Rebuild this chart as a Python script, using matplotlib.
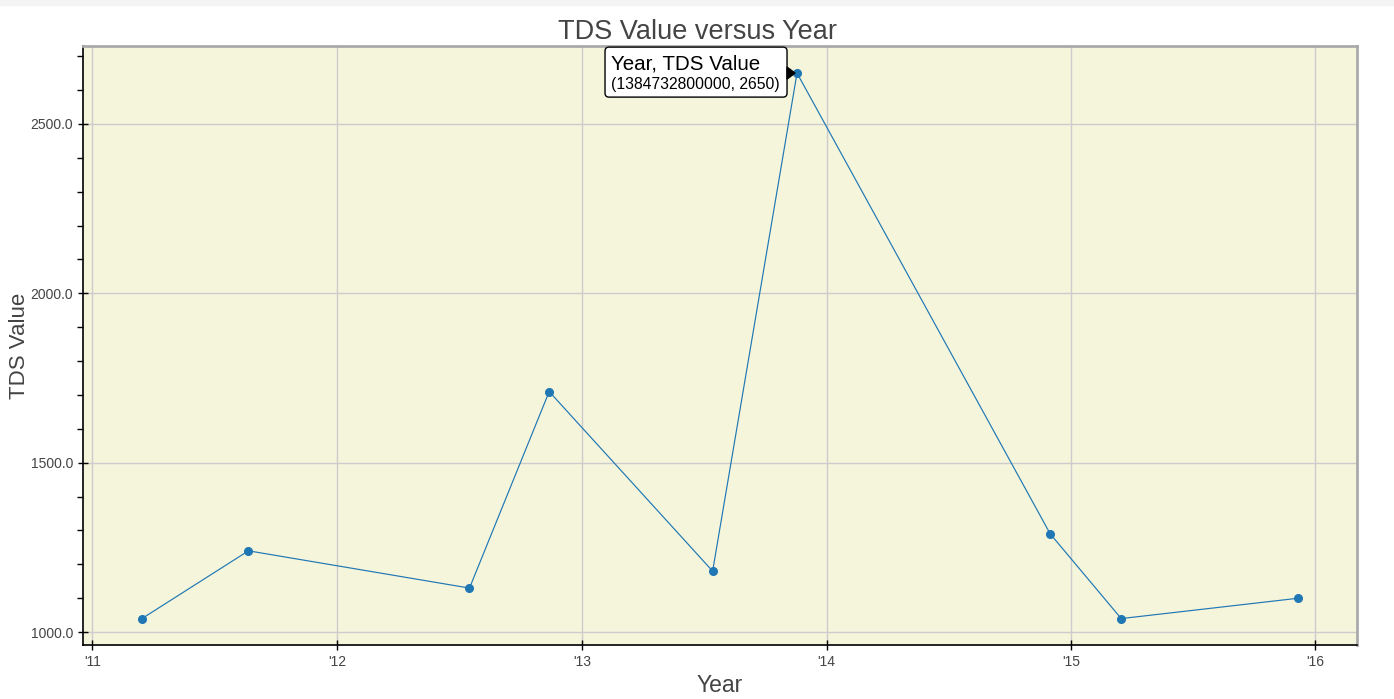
import datetime as dt
import matplotlib
matplotlib.use("Agg")
import matplotlib.pyplot as plt
import matplotlib.dates as mdates
import matplotlib.transforms as mtransforms
from matplotlib.ticker import MultipleLocator, FuncFormatter
from matplotlib.patches import Rectangle, FancyBboxPatch, Polygon

plt.rcParams['font.family'] = ['Liberation Sans', 'DejaVu Sans']

# data
dates = [dt.datetime(2011, 3, 16), dt.datetime(2011, 8, 22), dt.datetime(2012, 7, 17),
         dt.datetime(2012, 11, 13), dt.datetime(2013, 7, 15), dt.datetime(2013, 11, 18),
         dt.datetime(2014, 12, 1), dt.datetime(2015, 3, 17), dt.datetime(2015, 12, 6)]
tds = [1040, 1240, 1130, 1710, 1180, 2650, 1290, 1040, 1100]
hover_idx = 5
hover_ms = 1384732800000

fig = plt.figure(figsize=(13.94, 6.99), dpi=100)
fig.patches.append(Rectangle((0, 0.993), 1, 0.007, transform=fig.transFigure,
                             color='#f4f4f4', zorder=0))
ax = fig.add_axes([83 / 1394, 1 - 645 / 699, (1357 - 83) / 1394, (645 - 46) / 699])
ax.set_facecolor('#f5f5dc')

ax.plot(dates, tds, color='#1f77b4', lw=0.85, marker='o', ms=5.5, zorder=3)

ax.set_xlim(dt.datetime(2010, 12, 18), dt.datetime(2016, 3, 3))
ax.set_ylim(962, 2730)

ax.xaxis.set_major_locator(mdates.YearLocator())
ax.xaxis.set_major_formatter(mdates.DateFormatter("'%y"))
ax.yaxis.set_major_locator(MultipleLocator(500))
ax.yaxis.set_minor_locator(MultipleLocator(100))
ax.yaxis.set_major_formatter(FuncFormatter(lambda v, p: f'{v:.1f}'))

ax.grid(True, color='#cccccc', lw=1)
ax.set_axisbelow(True)
ax.tick_params(axis='both', which='major', length=7, width=1, direction='inout',
               labelsize=10, labelcolor='#444444', colors='black')
ax.tick_params(axis='x', labelcolor='#444444', pad=4)
ax.tick_params(axis='y', which='minor', length=4, width=1, direction='out')

for side in ['top', 'right']:
    ax.spines[side].set_color('#aaaaaa')
    ax.spines[side].set_linewidth(2)
for side in ['left', 'bottom']:
    ax.spines[side].set_color('black')
    ax.spines[side].set_linewidth(1.2)

fig.text(0.5, 1 - 32 / 699, 'TDS Value versus Year', fontsize=19.5, color='#444444',
         ha='center', va='center')
ax.set_xlabel('Year', fontsize=16.5, color='#444444')
ax.set_ylabel('TDS Value', fontsize=16, color='#444444')
ax.xaxis.set_label_coords(0.5, -0.067)
ax.yaxis.set_label_coords(-0.0495, 0.5)
ax.xaxis.label.set_va('center')
ax.yaxis.label.set_va('center')

# hover tooltip, drawn in pixels relative to the hovered point
xh, yh = mdates.date2num(dates[hover_idx]), tds[hover_idx]
tip = mtransforms.ScaledTranslation(xh, yh, ax.transData)
ax.add_patch(FancyBboxPatch((-192, -24), 182, 50, boxstyle='round,pad=0,rounding_size=4',
                            fc='white', ec='black', lw=1, zorder=4, transform=tip,
                            clip_on=False))
ax.add_patch(Polygon([(-10, 6), (-10, -6), (-2, 0)], closed=True, fc='black', ec='black',
                     zorder=4, transform=tip, clip_on=False))
ax.text(-186, 9, 'Year, TDS Value', fontsize=14.8, color='black', ha='left', va='center',
        transform=tip, zorder=5)
ax.text(-186, -11, f'({hover_ms}, {yh})', fontsize=11.3, color='black', ha='left',
        va='center', transform=tip, zorder=5)

fig.savefig('out.png', dpi=100)
